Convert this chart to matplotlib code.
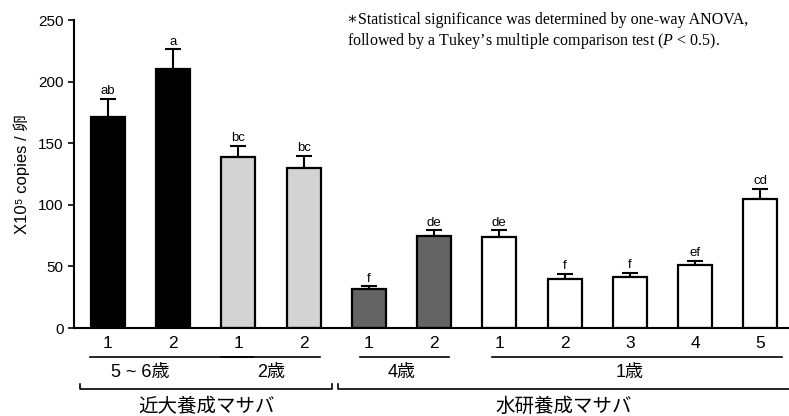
import numpy as np
import matplotlib
matplotlib.use('Agg')
import matplotlib.pyplot as plt
import matplotlib.transforms as mtransforms

plt.rcParams['font.family'] = ['Liberation Sans', 'DejaVu Sans', 'Noto Sans CJK JP']
plt.rcParams['mathtext.fontset'] = 'custom'
plt.rcParams['mathtext.rm'] = 'Liberation Serif'
plt.rcParams['mathtext.it'] = 'Liberation Serif:italic'

# data
bar_labels = ['1', '2', '1', '2', '1', '2', '1', '2', '3', '4', '5']
means = [171, 210, 139, 130, 32, 75, 74, 40, 41.5, 51, 104.5]
errors = [15, 16.5, 9, 10, 2, 4.5, 5.5, 4, 3.5, 3.6, 8.5]
letters = ['ab', 'a', 'bc', 'bc', 'f', 'de', 'de', 'f', 'f', 'ef', 'cd']
age_groups = ['5 ~ 6歳', '2歳', '4歳', '1歳']
age_members = [[0, 1], [2, 3], [4, 5], [6, 7, 8, 9, 10]]
origins = ['近大養成マサバ', '水研養成マサバ']
origin_members = [[0, 1, 2, 3], [4, 5, 6, 7, 8, 9, 10]]

group_colors = ['black', '#d3d3d3', '#646464', 'white']

fig = plt.figure(figsize=(7.89, 4.16), dpi=100)
ax = fig.add_axes([74 / 789, 88 / 416, 1 - 74 / 789, 308 / 416])

x = np.arange(len(means))
colors = []
for g, members in enumerate(age_members):
    colors += [group_colors[g]] * len(members)

ax.bar(x, means, width=0.52, color=colors, edgecolor='black', linewidth=1.6, zorder=2)
ax.errorbar(x, means, yerr=[np.zeros(len(errors)), errors], fmt='none', ecolor='black',
            elinewidth=1.5, capsize=6, capthick=1.5, zorder=1)

for xi, m, e, lab in zip(x, means, errors, letters):
    ax.annotate(lab, (xi, m + e), xytext=(0, 1), textcoords='offset points',
                ha='center', va='bottom', fontsize=9.5)

ax.set_xlim(-0.52, 10.44)
ax.set_ylim(0, 250)
ax.set_yticks([0, 50, 100, 150, 200, 250])
ax.tick_params(axis='y', labelsize=11, length=4, width=1.2, direction='out')
ax.set_xticks([])
for side in ['top', 'right']:
    ax.spines[side].set_visible(False)
ax.spines['left'].set_linewidth(1.5)
ax.spines['bottom'].set_linewidth(1.5)

ax.set_ylabel('X10⁵ copies / 卵', fontsize=12, labelpad=6)

trans = mtransforms.blended_transform_factory(ax.transData, ax.transAxes)

# bar numbers
for xi, lab in zip(x, bar_labels):
    ax.text(xi, -0.05, lab, transform=trans, ha='center', va='center', fontsize=12.5)

# age group underlines and labels
under = [(-0.28, 1.23), (-0.26, 0.25), (-0.14, 0.23), (-0.12, 0.34)]
for name, members, (l, r) in zip(age_groups, age_members, under):
    x0, x1 = members[0] + l, members[-1] + r
    ax.plot([x0, x1], [-0.094, -0.094], transform=trans, color='black', lw=1.2, clip_on=False)
    ax.text((members[0] + members[-1]) / 2, -0.143, name, transform=trans,
            ha='center', va='center', fontsize=13)

# origin brackets
brackets = [(-0.43, 0.44), (-0.47, 0.45)]
for name, members, (l, r) in zip(origins, origin_members, brackets):
    x0, x1 = members[0] + l, members[-1] + r
    ax.plot([x0, x0, x1, x1], [-0.182, -0.198, -0.198, -0.182], transform=trans,
            color='black', lw=1.2, clip_on=False)
    ax.text((x0 + x1) / 2, -0.256, name, transform=trans, ha='center', va='center', fontsize=14)

fig.text(347 / 789, 1 - 20 / 416, '∗Statistical significance was determined by one-way ANOVA,',
         family=['Liberation Serif', 'DejaVu Serif'], fontsize=11.5, va='center', ha='left')
fig.text(347 / 789, 1 - 41 / 416, 'followed by a Tukey’s multiple comparison test ($P$ < 0.5).',
         family=['Liberation Serif', 'DejaVu Serif'], fontsize=11.5, va='center', ha='left')

fig.savefig('out.png', dpi=100)
